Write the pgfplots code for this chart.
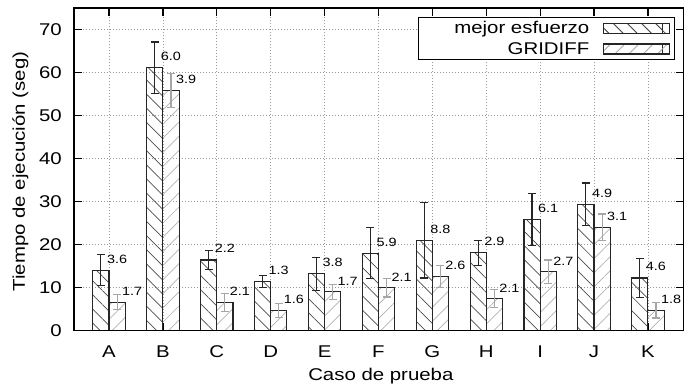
\documentclass[border=0pt]{standalone}
\usepackage{pgfplots}
\pgfplotsset{compat=1.18}
\usepackage{pgfplotstable}
\usepackage{fontspec}
\setmainfont{Liberation Sans}[FakeStretch=1.2]
\usetikzlibrary{patterns.meta}

\pgfplotstableread{
idx m   me  g    ge  mt  gt
0   14.0 3.6 6.6  1.7 3.6 1.7
1   61.1 6.0 55.8 3.9 6.0 3.9
2   16.4 2.2 6.6  2.1 2.2 2.1
3   11.4 1.3 4.7  1.6 1.3 1.6
4   13.2 3.8 9.0  1.7 3.8 1.7
5   18.0 5.9 9.9  2.1 5.9 2.1
6   21.0 8.8 12.6 2.6 8.8 2.6
7   18.1 2.9 7.4  2.1 2.9 2.1
8   25.8 6.1 13.7 2.7 6.1 2.7
9   29.4 4.9 24.0 3.1 4.9 3.1
10  12.2 4.6 4.7  1.8 4.6 1.8
}\data

\newcommand{\bigf}{\fontsize{17}{20}\selectfont}
\newcommand{\smallf}{\fontsize{12}{14}\selectfont}

\begin{document}
\begin{tikzpicture}
\useasboundingbox (-74pt,-55.5pt) rectangle (610pt,330.5pt);
\begin{axis}[
  scale only axis, width=610pt, height=322.5pt,
  at={(0,0)}, anchor=south west,
  xmin=-0.65, xmax=10.67, ymin=0, ymax=75,
  xtick={0,1,2,3,4,5,6,7,8,9,10},
  xticklabels={A,B,C,D,E,F,G,H,I,J,K},
  ytick={0,10,20,30,40,50,60,70},
  tick pos=both, tick align=inside, major tick length=8pt,
  minor tick num=0,
  tick style={black, line width=1.2pt},
  axis line style={black, line width=1.3pt},
  xmajorgrids, ymajorgrids,
  grid style={dash pattern=on 1pt off 2pt, gray!80, line width=0.8pt},
  /pgf/number format/assume math mode=true,
  tick label style={font=\bigf},
  yticklabel style={anchor=east, inner sep=0pt, xshift=-12pt},
  xticklabel style={anchor=base, inner sep=0pt, yshift=-26.5pt},
  every axis y label/.style={at={(axis description cs:-0.0877,0.493)}, rotate=90, anchor=center, font=\bigf},
  every axis x label/.style={at={(axis description cs:0.503,0)}, anchor=base, yshift=-49.5pt, font=\bigf},
  xlabel={Caso de prueba},
  ylabel={Tiempo de ejecución (seg)},
  legend plot pos=right,
  legend cell align=right,
  legend style={at={(0.985,0.972)}, anchor=north east, draw=black, line width=1pt, font=\bigf, row sep=3pt,
    inner xsep=4pt, inner ysep=2pt,
    /tikz/every odd column/.append style={column sep=12pt}},
]
\addplot[ybar, bar width=0.3, bar shift=0pt, draw=black!85, line width=1.1pt,
  pattern={Lines[angle=-45,distance=10pt,line width=0.7pt]}, pattern color=black!70,
  legend image code/.code={\draw[draw=black!85, line width=1pt, pattern={Lines[angle=-45,distance=10pt,line width=0.7pt]}, pattern color=black!70] (0pt,-5pt) rectangle (59pt,5pt);
    \path (0pt,-5pt) rectangle (66pt,5pt);},
  error bars/.cd, y dir=both, y explicit,
  error bar style={line width=1.1pt, black!85, solid},
  error mark options={rotate=90, mark size=4pt, line width=1.1pt, black!85}]
  table[x expr=\coordindex-0.15, y=m, y error=me]{\data};
\addlegendentry{\bigf\makebox[165pt][r]{mejor esfuerzo}}
\addplot[ybar, bar width=0.3, bar shift=0pt, draw=black!85, line width=1.1pt,
  pattern={Lines[angle=45,distance=10pt,line width=0.7pt]}, pattern color=black!30,
  legend image code/.code={\draw[draw=black!85, line width=1pt, pattern={Lines[angle=45,distance=10pt,line width=0.7pt]}, pattern color=black!30] (0pt,-5pt) rectangle (59pt,5pt);
    \path (0pt,-5pt) rectangle (66pt,5pt);},
  error bars/.cd, y dir=both, y explicit,
  error bar style={line width=1.1pt, black!35, solid},
  error mark options={rotate=90, mark size=4pt, line width=1.1pt, black!35}]
  table[x expr=\coordindex+0.15, y=g, y error=ge]{\data};
\addlegendentry{\bigf\makebox[165pt][r]{GRIDIFF}}
\addplot[draw=none, forget plot, point meta=explicit symbolic, nodes near coords,
  nodes near coords style={anchor=west, inner sep=0pt, font=\smallf, black}]
  table[x expr=\coordindex-0.04, y expr=\thisrow{m}+2.6, meta=mt]{\data};
\addplot[draw=none, forget plot, point meta=explicit symbolic, nodes near coords,
  nodes near coords style={anchor=west, inner sep=0pt, font=\smallf, black}]
  table[x expr=\coordindex+0.24, y expr=\thisrow{g}+2.5, meta=gt]{\data};
\draw[black, line width=2pt] (axis cs:-0.65,0) -- (axis cs:10.67,0);
\end{axis}
\end{tikzpicture}
\end{document}
